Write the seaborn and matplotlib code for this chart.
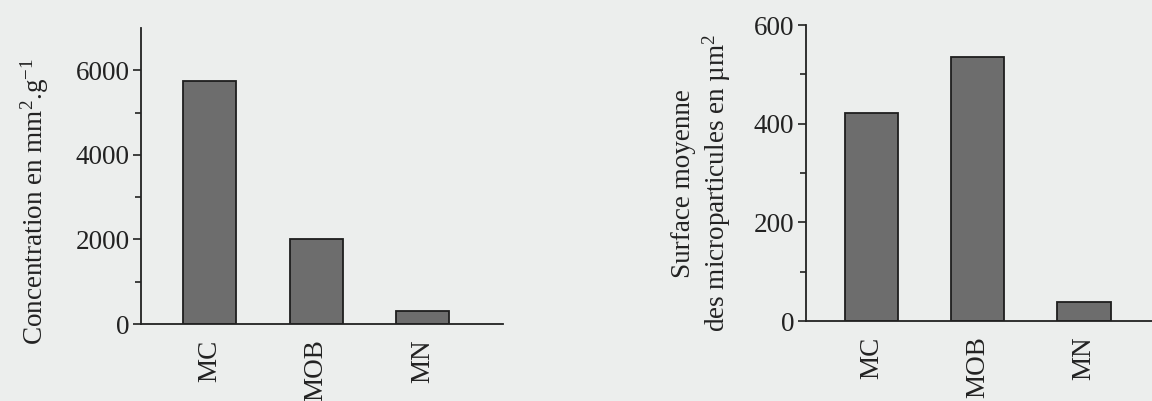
import matplotlib
matplotlib.use("Agg")
import matplotlib.pyplot as plt
import seaborn as sns
import pandas as pd

# ---- data ----
categories = ["MC", "MOB", "MN"]
concentration = [5750, 2020, 310]      # mm2.g-1
surface_moyenne = [421, 535, 39]       # µm2

conc_major_ticks = [0, 2000, 4000, 6000]
conc_minor_ticks = [1000, 3000, 5000]
surf_major_ticks = [0, 200, 400, 600]
surf_minor_ticks = [100, 300, 500]

# ---- style ----
sns.set_style("ticks")
BG = "#eceeed"
BAR = "#6d6d6d"
EDGE = "#1e1e1e"
INK = "#222222"
plt.rcParams["font.family"] = ["Liberation Serif", "DejaVu Serif"]
plt.rcParams["mathtext.fontset"] = "custom"
plt.rcParams["mathtext.rm"] = "Liberation Serif"
plt.rcParams["mathtext.it"] = "Liberation Serif:italic"
plt.rcParams["mathtext.bf"] = "Liberation Serif:bold"
FS = 19.5

fig = plt.figure(figsize=(11.52, 4.01), dpi=100)
fig.patch.set_facecolor(BG)

ax1 = fig.add_axes([0.1224, 0.192, 0.3142, 0.738])
ax2 = fig.add_axes([0.6993, 0.1995, 0.3247, 0.738])

df1 = pd.DataFrame({"cat": categories, "val": concentration})
df2 = pd.DataFrame({"cat": categories, "val": surface_moyenne})

for ax, df in ((ax1, df1), (ax2, df2)):
    ax.set_facecolor(BG)
    sns.barplot(data=df, x="cat", y="val", order=categories, ax=ax,
                color=BAR, saturation=1, width=0.5,
                edgecolor=EDGE, linewidth=1.3)
    for s in ("top", "right"):
        ax.spines[s].set_visible(False)
    for s in ("left", "bottom"):
        ax.spines[s].set_color(INK)
        ax.spines[s].set_linewidth(1.3)
    ax.set_xlabel("")
    ax.tick_params(axis="x", length=0, pad=11, labelsize=FS,
                   labelrotation=90, colors=INK)
    ax.tick_params(axis="y", which="major", length=6, width=1.2,
                   pad=2, labelsize=FS, colors=INK)
    ax.tick_params(axis="y", which="minor", length=4.5, width=1.2, colors=INK)

ax1.set_xlim(-0.648, 2.757)
ax1.set_ylim(0, 7000)
ax1.set_yticks(conc_major_ticks)
ax1.set_yticks(conc_minor_ticks, minor=True)
ax1.set_ylabel("Concentration en mm$^{2}$.g$^{-1}$", fontsize=FS, color=INK)
ax1.yaxis.set_label_coords(-0.25, 0.415)

ax2.set_xlim(-0.62, 2.9)
ax2.set_ylim(0, 600)
ax2.set_yticks(surf_major_ticks)
ax2.set_yticks(surf_minor_ticks, minor=True)
ax2.set_ylabel("Surface moyenne\ndes microparticules en µm$^{2}$",
               fontsize=FS, color=INK, linespacing=1.22)
ax2.yaxis.set_label_coords(-0.193, 0.466)

fig.savefig("out.png", dpi=100, facecolor=BG)
